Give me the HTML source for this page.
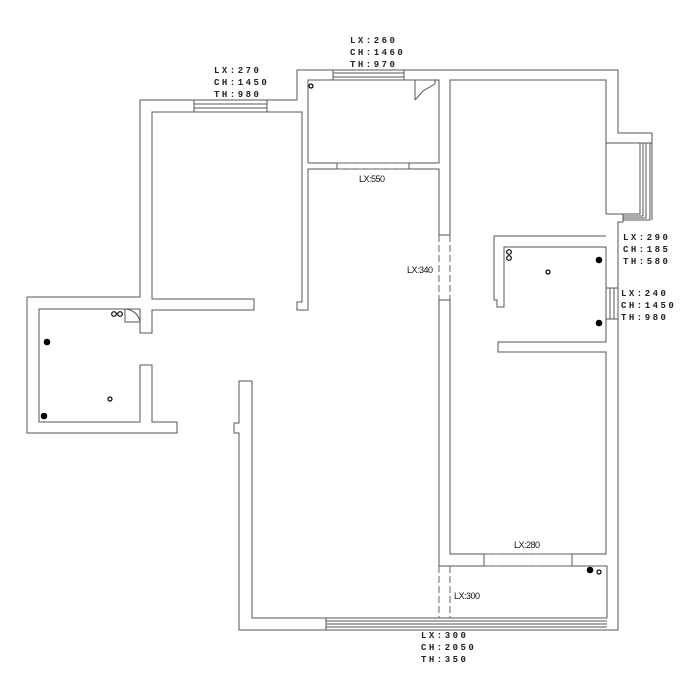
<!DOCTYPE html>
<html><head><meta charset="utf-8"><style>
html,body{margin:0;padding:0;background:#fff;}
svg{display:block}
.w{fill:none;stroke:#555;stroke-width:1}
.d{fill:none;stroke:#666;stroke-width:1;stroke-dasharray:7 3}
.m{font-family:"Liberation Mono",monospace;font-size:9px;letter-spacing:2.5px;fill:#222;font-weight:bold}
.s{font-family:"Liberation Sans",sans-serif;font-size:9px;fill:#111;letter-spacing:-0.5px}
</style></head><body>
<svg width="700" height="700" viewBox="0 0 700 700" xmlns="http://www.w3.org/2000/svg">
<!-- outer contour -->
<polyline class="w" points="27,297 140,297 140,100 297,100 297,70 618,70 618,133 652,133 652,220"/>
<polyline class="w" points="606,143 652,143"/>
<polyline class="w" points="640,143 640,214 623,214"/>
<polyline class="w" points="643,143 643,216 623,216"/>
<polyline class="w" points="646,143 646,218 623,218"/>
<polyline class="w" points="650,143 650,220 623,220"/>
<polyline class="w" points="606,214 623,214 623,222 618,222 618,630 239,630 239,433 234,433 234,423 239,423 239,381 252,381 252,618 607,618"/>
<!-- left small room -->
<polyline class="w" points="27,297 27,433 177,433 177,422 152,422 152,365 140,365 140,422 39,422 39,309 140,309 140,333 152,333 152,310 254,310 254,299 152,299 152,112 302,112 302,302 297,302 297,310 308,310 308,169 439,169 439,235"/>
<polyline class="w" points="439,300 439,566 607,566 607,618"/>
<!-- top room -->
<polyline class="w" points="308,163 308,80 439,80 439,163 308,163"/>
<polyline class="w" points="415,100 415,80 435,80 435,84 423,91 415,100"/>
<!-- right rooms -->
<polyline class="w" points="450,235 450,80 606,80 606,214"/>
<polyline class="w" points="606,236 494,236 494,300 497,300 497,307 504,307 504,247 606,247 606,342 498,342 498,352 606,352 606,554 450,554 450,300"/>
<line class="w" x1="439" y1="235" x2="450" y2="235"/><line class="w" x1="439" y1="300" x2="450" y2="300"/>
<!-- doors dashed -->
<line class="d" x1="337" y1="163" x2="409" y2="163"/><line class="d" x1="337" y1="169" x2="409" y2="169"/>
<line class="w" x1="337" y1="163" x2="337" y2="169"/><line class="w" x1="409" y1="163" x2="409" y2="169"/>
<line class="d" x1="439" y1="235" x2="439" y2="300"/><line class="d" x1="450" y1="235" x2="450" y2="300"/>
<line class="d" x1="484" y1="554" x2="572" y2="554"/><line class="d" x1="484" y1="566" x2="572" y2="566"/>
<line class="w" x1="484" y1="554" x2="484" y2="566"/><line class="w" x1="572" y1="554" x2="572" y2="566"/>
<line class="d" x1="439" y1="566" x2="439" y2="618"/><line class="d" x1="450" y1="566" x2="450" y2="618"/>
<!-- windows -->
<g class="w">
<rect x="194" y="100" width="73" height="12"/><line x1="194" y1="104" x2="267" y2="104"/><line x1="194" y1="108" x2="267" y2="108"/>
<rect x="333" y="70" width="71" height="10"/><line x1="333" y1="73" x2="404" y2="73"/><line x1="333" y1="77" x2="404" y2="77"/>
<rect x="606" y="288" width="12" height="31"/><line x1="610" y1="288" x2="610" y2="319"/><line x1="614" y1="288" x2="614" y2="319"/>
<line x1="326" y1="618" x2="326" y2="630"/><line x1="326" y1="621" x2="607" y2="621"/><line x1="326" y1="624" x2="607" y2="624"/><line x1="326" y1="627" x2="607" y2="627"/>
<path d="M125,309 L125,322 L140,322 M126,309 Q138,311 140,322"/>
</g>
<!-- fixtures -->
<g fill="#000"><circle cx="47" cy="342" r="3.3"/><circle cx="44" cy="416" r="3.3"/><circle cx="599" cy="260" r="3.3"/><circle cx="599" cy="323" r="3.3"/><circle cx="590" cy="570" r="3.3"/></g>
<g fill="none" stroke="#000" stroke-width="1.2"><circle cx="110" cy="399" r="2"/><circle cx="114" cy="314" r="2.3"/><circle cx="120" cy="314" r="2.3"/><circle cx="548" cy="272" r="2"/><circle cx="509" cy="252" r="2.3"/><circle cx="509" cy="258" r="2.3"/><circle cx="599" cy="572" r="2"/><circle cx="311" cy="86" r="2"/></g>
<!-- labels -->
<text class="m" x="214" y="73">LX:270</text><text class="m" x="214" y="85">CH:1450</text><text class="m" x="214" y="97">TH:980</text>
<text class="m" x="350" y="43">LX:260</text><text class="m" x="350" y="55">CH:1460</text><text class="m" x="350" y="67">TH:970</text>
<text class="m" x="623" y="240">LX:290</text><text class="m" x="623" y="252">CH:185</text><text class="m" x="623" y="264">TH:580</text>
<text class="m" x="621" y="296">LX:240</text><text class="m" x="621" y="308">CH:1450</text><text class="m" x="621" y="320">TH:980</text>
<text class="m" x="421" y="638">LX:300</text><text class="m" x="421" y="650">CH:2050</text><text class="m" x="421" y="662">TH:350</text>
<text class="s" x="359" y="182">LX:550</text>
<text class="s" x="407" y="273">LX:340</text>
<text class="s" x="514" y="548">LX:280</text>
<text class="s" x="454" y="599">LX:300</text>
</svg>
</body></html>
